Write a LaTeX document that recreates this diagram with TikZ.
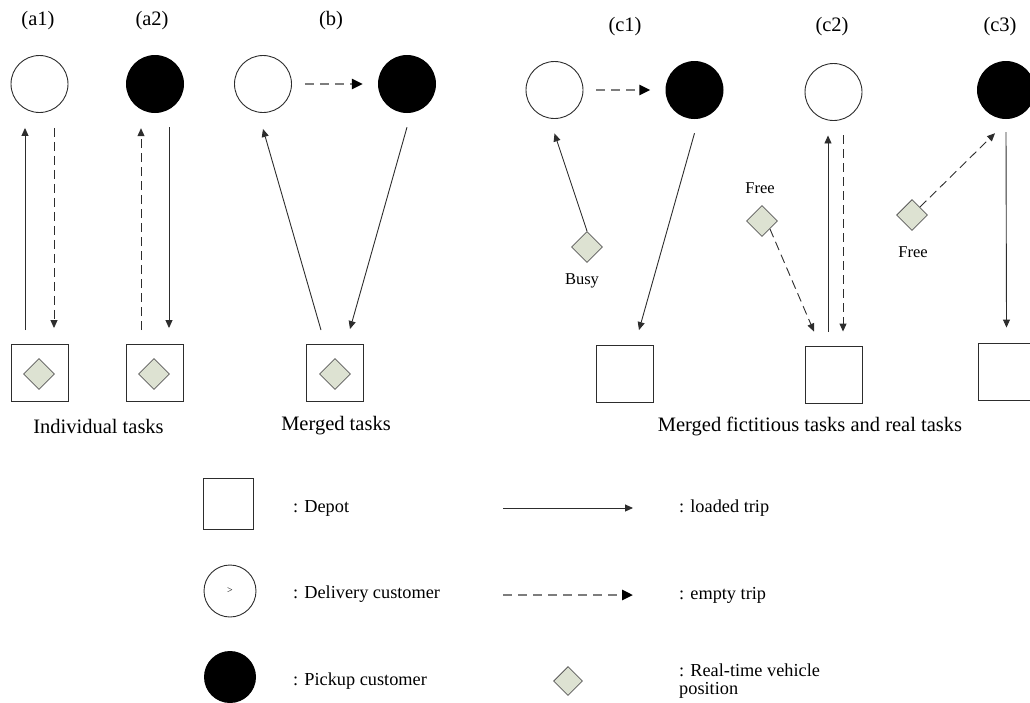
\documentclass[tikz,border=0pt]{standalone}
\usepackage{fontspec}
\setmainfont{Liberation Serif}
\usetikzlibrary{arrows.meta,shapes.geometric}
\definecolor{dfill}{RGB}{221,226,210}
\definecolor{dline}{RGB}{90,90,90}
\definecolor{lgray}{RGB}{45,45,45}
\definecolor{hgray}{RGB}{125,125,125}
\tikzset{
  cust/.style={circle,draw=lgray,line width=0.9pt,fill=white,minimum size=57pt,inner sep=0pt},
  pick/.style={circle,fill=black,minimum size=58pt,inner sep=0pt},
  depot/.style={rectangle,draw=lgray,line width=0.9pt,minimum width=57pt,minimum height=57pt,inner sep=0pt},
  veh/.style={diamond,draw=dline,line width=0.8pt,fill=dfill,minimum width=31pt,minimum height=31pt,inner sep=0pt},
  tip/.style={-{Triangle[length=8pt,width=7pt]}},
  loaded/.style={tip,draw=lgray,line width=0.9pt},
  empty/.style={tip,draw=lgray,line width=0.9pt,dash pattern=on 9pt off 5pt},
  emptyh/.style={draw=hgray,line width=2.6pt,dash pattern=on 9pt off 6pt,
     -{Triangle[length=11pt,width=10pt,fill=black,color=black]}},
  lab/.style={font=\fontsize{20.5}{24}\selectfont,inner sep=0pt},
  small/.style={font=\fontsize{16.5}{19}\selectfont,inner sep=0pt},
  leg/.style={font=\fontsize{18.3}{18}\selectfont,inner sep=0pt,anchor=west},
}
\begin{document}
\begin{tikzpicture}[x=1pt,y=-1pt]
\useasboundingbox (0,0) rectangle (1030,702);
\clip (0,0) rectangle (1030,702);
% labels
\node[lab] (la1) at (38,21) {(a1)};
\node[lab] (la2) at (152,21) {(a2)};
\node[lab] (lb) at (331,21) {(b)};
\node[lab] (lc1) at (625,27) {(c1)};
\node[lab] (lc2) at (832,27) {(c2)};
\node[lab] (lc3) at (1000,27) {(c3)};
\node[lab] (cap1) at (98.5,426) {Individual tasks};
\node[lab] (cap2) at (336,426) {Merged tasks};
\node[lab] (cap3) at (810,426) {Merged fictitious tasks and real tasks};
% (a1)
\node[cust] (a1c) at (39.5,84) {};
\node[depot] (a1d) at (39.5,373) {};
\node[veh] (a1v) at (39,374) {};
\draw[loaded] ([xshift=-14.5pt,yshift=14pt]a1d.north) -- ([xshift=-14.5pt,yshift=-15pt]a1c.south);
\draw[empty] ([xshift=14.5pt,yshift=-15pt]a1c.south) -- ([xshift=14.5pt,yshift=16pt]a1d.north);
% (a2)
\node[pick] (a2p) at (155,84) {};
\node[depot] (a2d) at (155,373) {};
\node[veh] (a2v) at (154,374) {};
\draw[empty] ([xshift=-14pt,yshift=14pt]a2d.north) -- ([xshift=-14pt,yshift=-15pt]a2p.south);
\draw[loaded] ([xshift=14pt,yshift=-14pt]a2p.south) -- ([xshift=14pt,yshift=16pt]a2d.north);
% (b)
\node[cust] (bc) at (263,84) {};
\node[pick] (bp) at (407,84) {};
\node[depot] (bd) at (335,373) {};
\node[veh] (bv) at (335,374) {};
\draw[emptyh] ([xshift=13pt]bc.east) -- ([xshift=-15pt]bp.west);
\draw[loaded] ([xshift=-14pt,yshift=14pt]bd.north) -- ([yshift=-16pt]bc.south);
\draw[loaded] ([yshift=-14pt]bp.south) -- ([xshift=15pt,yshift=15pt]bd.north);
% (c1)
\node[cust] (c1c) at (554.5,90) {};
\node[pick] (c1p) at (694.5,90) {};
\node[depot] (c1d) at (624.5,374) {};
\node[veh] (c1v) at (587,247) {};
\node[small] (busy) at (582,281) {Busy};
\draw[emptyh] ([xshift=13pt]c1c.east) -- ([xshift=-15pt]c1p.west);
\draw[loaded] (c1v.north) -- ([yshift=-14.5pt]c1c.south);
\draw[loaded] ([yshift=-14pt]c1p.south) -- ([xshift=14.5pt,yshift=15pt]c1d.north);
% (c2)
\node[cust] (c2c) at (833.5,92) {};
\node[depot] (c2d) at (833.5,374.5) {};
\node[veh] (c2v) at (762,221) {};
\node[small] (free1) at (760,188) {Free};
\draw[loaded] ([xshift=-5.5pt,yshift=14pt]c2d.north) -- ([xshift=-5.5pt,yshift=-14.5pt]c2c.south);
\draw[empty] ([xshift=9.5pt,yshift=-14.5pt]c2c.south) -- ([xshift=9.5pt,yshift=14pt]c2d.north);
\draw[empty] (c2v.south east) -- ([xshift=-19.5pt,yshift=14pt]c2d.north);
% (c3)
\node[pick] (c3p) at (1006,90) {};
\node[depot] (c3d) at (1006.5,371.5) {};
\node[veh] (c3v) at (912,215) {};
\node[small] (free2) at (913,252) {Free};
\draw[empty] (c3v.north east) -- ([xshift=-11pt,yshift=-14pt]c3p.south);
\draw[loaded] ([yshift=-13pt]c3p.south) -- ([yshift=15pt]c3d.north);
% legend
\node[depot,minimum width=50pt,minimum height=51pt] (ld) at (228,503.5) {};
\node[leg] (ldt) at (293,508) {: Depot};
\node[cust,minimum size=52pt] (lc) at (230,591) {\fontsize{10}{12}\selectfont >};
\node[leg] (lct) at (293,594) {: Delivery customer};
\node[pick,minimum size=52pt] (lp) at (230,677) {};
\node[leg] (lpt) at (293,681) {: Pickup customer};
\coordinate (la) at (503,508);
\coordinate (lb2) at (633,508);
\draw[loaded] (la) -- (lb2);
\node[leg] (llt) at (679,508) {: loaded trip};
\coordinate (le) at (503,595);
\coordinate (lf) at (633,595);
\draw[emptyh] (le) -- (lf);
\node[leg] (let) at (679,595) {: empty trip};
\node[veh,minimum width=29pt,minimum height=29pt] (lv) at (568,681) {};
\node[leg,align=left] (lvt) at (679,681) {: Real-time vehicle\\position};
\end{tikzpicture}
\end{document}
